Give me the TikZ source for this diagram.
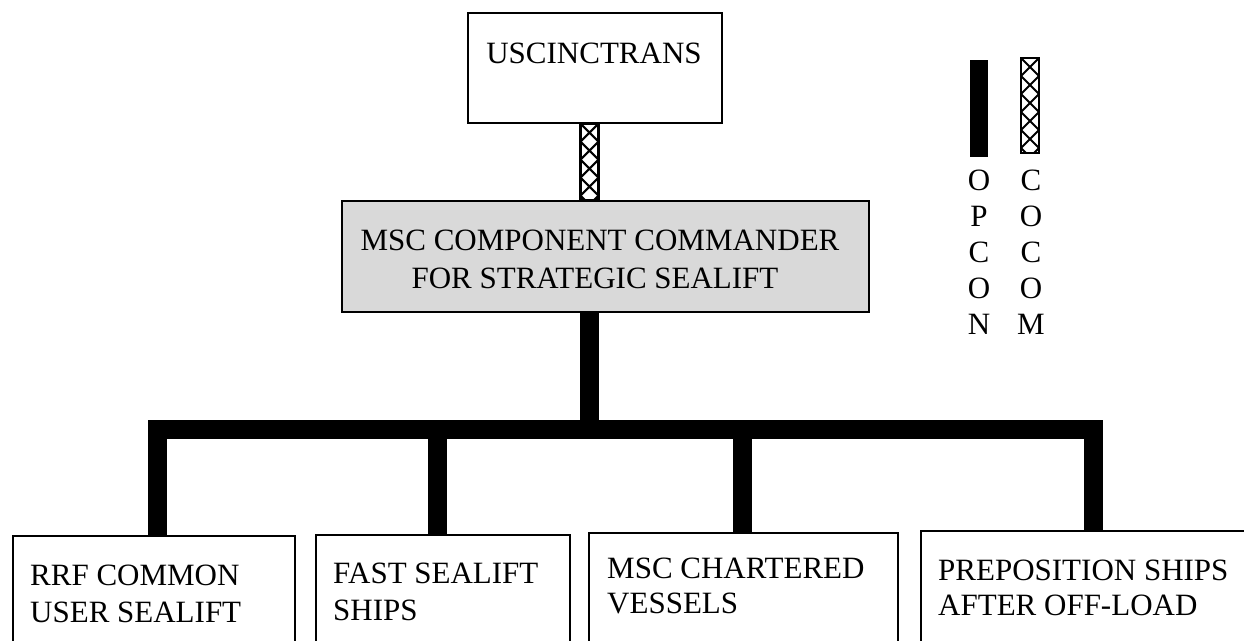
\documentclass[tikz,border=0pt]{standalone}
\usepackage{fontspec}
\setmainfont{Liberation Serif}
\usetikzlibrary{calc}
\begin{document}
\begin{tikzpicture}[x=1pt,y=-1pt,
  box/.style={draw, line width=1.6pt, inner sep=0pt, anchor=north west},
  txt/.style={font=\fontsize{31}{37}\selectfont, inner sep=0pt},
  opcon/.style={line width=19pt, line join=miter, line cap=butt},
  hatchline/.style={line width=2pt},
  hatchframe/.style={line width=2.2pt}
]
\useasboundingbox (0,0) rectangle (1244,640);
\clip (0,0) rectangle (1244,640);

% boxes
\node[box, minimum width=254pt, minimum height=110pt] (us) at (467,12) {};
\node[txt, anchor=base] (ust) at (594,63) {USCINCTRANS};

\node[box, fill=black!15, minimum width=527pt, minimum height=111pt] (msc) at (341,200) {};
\node[txt, anchor=base] (msc1) at (600,250) {MSC COMPONENT COMMANDER};
\node[txt, anchor=base] (msc2) at (595,288) {FOR STRATEGIC SEALIFT};

\node[box, minimum width=282pt, minimum height=130pt] (b1) at (12,535) {};
\node[box, minimum width=254pt, minimum height=130pt] (b2) at (315,534) {};
\node[box, minimum width=309pt, minimum height=130pt] (b3) at (588,532) {};
\node[box, minimum width=340pt, minimum height=130pt] (b4) at (920,530) {};

\node[txt, anchor=base west] (b1a) at ($(b1.north west)+(18,50)$) {RRF COMMON};
\node[txt, anchor=base west] (b1b) at ($(b1.north west)+(18,87)$) {USER SEALIFT};
\node[txt, anchor=base west] (b2a) at ($(b2.north west)+(18,49)$) {FAST SEALIFT};
\node[txt, anchor=base west] (b2b) at ($(b2.north west)+(18,86)$) {SHIPS};
\node[txt, anchor=base west] (b3a) at ($(b3.north west)+(19,46)$) {MSC CHARTERED};
\node[txt, anchor=base west] (b3b) at ($(b3.north west)+(19,81)$) {VESSELS};
\node[txt, anchor=base west] (b4a) at ($(b4.north west)+(18,50)$) {PREPOSITION SHIPS};
\node[txt, anchor=base west] (b4b) at ($(b4.north west)+(18,85)$) {AFTER OFF-LOAD};

% coordinates of the connector lines
\coordinate (cx) at (589.5,0);
\coordinate (j1) at (157.5,429);
\coordinate (j2) at (437,429);
\coordinate (j3) at (742,429);
\coordinate (j4) at (1093,429);

% COCOM connector (hatched)
\begin{scope}
  \path[clip] ($(cx |- us.south)+(-9,0)$) rectangle ($(cx |- msc.north)+(9,0)$);
  \foreach \k in {0,...,5} {
    \draw[hatchline] ($(cx |- us.south)+(-9,\k*18)$) -- ++(18,18)
                     ($(cx |- us.south)+(9,\k*18)$) -- ++(-18,18);
  }
\end{scope}
\draw[hatchframe] ($(cx |- us.south)+(-9,0)$) rectangle ($(cx |- msc.north)+(9,0)$);

% OPCON connectors (solid)
\draw[opcon] (cx |- msc.south) -- (cx |- j1);
\draw[opcon] (j1 |- b1.north) -- (j1) -- (j4) -- (j4 |- b4.north);
\draw[opcon] (j2) -- (j2 |- b2.north);
\draw[opcon] (j3) -- (j3 |- b3.north);

% legend
\fill (970,60) rectangle (988,157);
\begin{scope}
  \path[clip] (1021,58) rectangle (1039,153);
  \foreach \k in {0,...,5} {
    \draw[hatchline] (1021,58+\k*18) -- ++(18,18) (1039,58+\k*18) -- ++(-18,18);
  }
\end{scope}
\draw[hatchframe] (1021,58) rectangle (1039,153);

\foreach \l [count=\i from 0] in {O,P,C,O,N}
  \node[txt, anchor=base] (op\i) at (979,190+36*\i) {\l};
\foreach \l [count=\i from 0] in {C,O,C,O,M}
  \node[txt, anchor=base] (co\i) at (1031,190+36*\i) {\l};
\end{tikzpicture}
\end{document}
